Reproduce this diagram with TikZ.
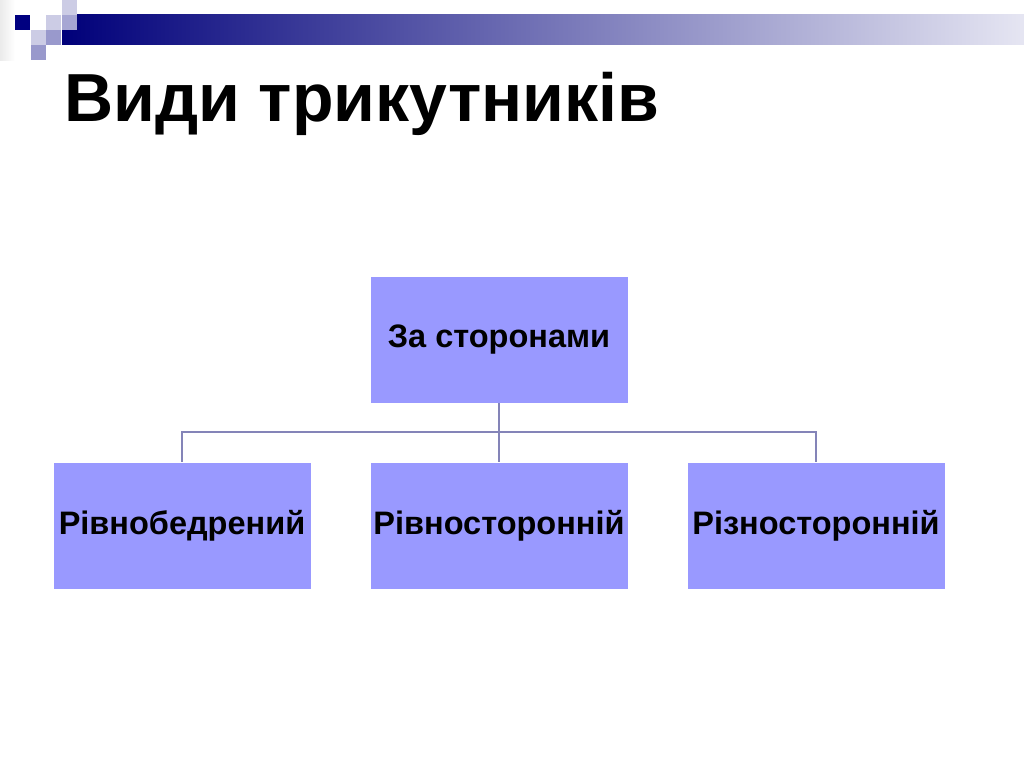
\documentclass[tikz,border=0pt]{standalone}
\usepackage{fontspec}
\setmainfont{Liberation Sans}
\begin{document}
\begin{tikzpicture}[x=1pt,y=-1pt,
  box/.style={draw=white,line width=0.8pt,fill=boxc,minimum width=258pt,minimum height=127pt,inner sep=0pt,font=\bfseries\fontsize{32.5}{36}\selectfont},
  conn/.style={draw=linec,line width=2.2pt}]
\definecolor{boxc}{HTML}{9999FF}
\definecolor{linec}{HTML}{8484B8}
\definecolor{navy}{HTML}{000080}
\useasboundingbox (0,0) rectangle (1024,768);
\fill[white] (0,0) rectangle (1024,768);
% decoration
\shade[left color=black!8!white,right color=white] (0,0) rectangle (15,60);
\shade[left color=navy!95!black,right color=navy!10!white] (62,15) rectangle (1024,45);
\fill[navy] (15,15) rectangle (30,30);
\fill[navy!20] (62,0) rectangle (77,15);
\fill[navy!20] (46,15) rectangle (61,30);
\fill[navy!35] (62,15) rectangle (77,30);
\fill[navy!20] (31,30) rectangle (46,45);
\fill[navy!40] (46,30) rectangle (61,45);
\fill[navy!40] (31,45) rectangle (46,60);
\node[anchor=base west,inner sep=0pt,font=\bfseries\fontsize{68}{74}\selectfont] (title) at (64,121) {Види трикутників};
\node[box] (top) at (499,339.5) {За сторонами};
\node[box] (a) at (182,525.5) {Рівнобедрений};
\node[box] (b) at (499,525.5) {Рівносторонній};
\node[box] (c) at (816,525.5) {Різносторонній};
\coordinate (j) at (499,432);
\draw[conn] (top.south) -- (j);
\draw[conn] (a.north) -- (a.north |- j) -- (c.north |- j) -- (c.north);
\draw[conn] (j) -- (b.north);
\end{tikzpicture}
\end{document}
